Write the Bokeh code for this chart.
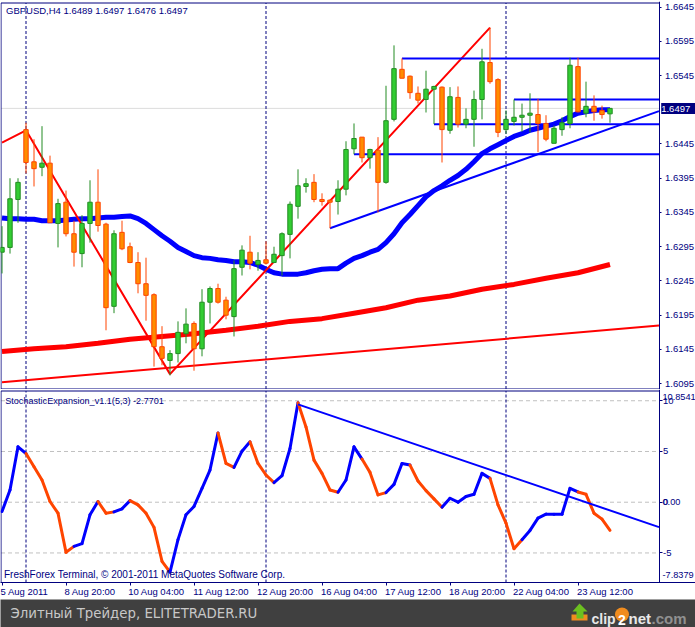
# GBPUSD H4 chart with stochastic sub window
import numpy as np
from bokeh.core.properties import value
from bokeh.embed import file_html
from bokeh.layouts import column, row
from bokeh.models import FixedTicker, Label, LinearAxis, Range1d
from bokeh.plotting import figure
from bokeh.resources import INLINE

opens = [1.6287, 1.6294, 1.6364, 1.6466, 1.6419, 1.6411, 1.6417, 1.6329, 1.6360, 1.6314,
         1.6285, 1.6329, 1.6360, 1.6328, 1.6208, 1.6316, 1.6295, 1.6272, 1.6241, 1.6225,
         1.6149, 1.6129, 1.6139, 1.6168, 1.6183, 1.6146, 1.6214, 1.6234, 1.6217, 1.6193,
         1.6265, 1.6287, 1.6269, 1.6276, 1.6272, 1.6282, 1.6313, 1.6354, 1.6383, 1.6389,
         1.6364, 1.6363, 1.6361, 1.6379, 1.6438, 1.6455, 1.6425, 1.6436, 1.6389, 1.6481,
         1.6554, 1.6544, 1.6519, 1.6510, 1.6525, 1.6528, 1.6465, 1.6513, 1.6474, 1.6481,
         1.6510, 1.6564, 1.6539, 1.6466, 1.6478, 1.6484, 1.6487, 1.6488, 1.6475, 1.6446,
         1.6466, 1.6475, 1.6558, 1.6490, 1.6500, 1.6494, 1.6489]
highs = [1.6325, 1.6395, 1.6395, 1.6476, 1.6452, 1.6471, 1.6428, 1.6365, 1.6377, 1.6333,
         1.6341, 1.6392, 1.6408, 1.6330, 1.6319, 1.6333, 1.6301, 1.6287, 1.6279, 1.6227,
         1.6179, 1.6144, 1.6186, 1.6205, 1.6186, 1.6233, 1.6237, 1.6241, 1.6222, 1.6275,
         1.6297, 1.6311, 1.6287, 1.6303, 1.6295, 1.6316, 1.6361, 1.6408, 1.6395, 1.6401,
         1.6373, 1.6364, 1.6392, 1.6449, 1.6475, 1.6455, 1.6438, 1.6455, 1.6530, 1.6589,
         1.6570, 1.6545, 1.6529, 1.6552, 1.6530, 1.6529, 1.6528, 1.6529, 1.6497, 1.6523,
         1.6584, 1.6615, 1.6541, 1.6494, 1.6510, 1.6504, 1.6519, 1.6511, 1.6487, 1.6472,
         1.6484, 1.6571, 1.6571, 1.6536, 1.6516, 1.6501, 1.6497]
lows = [1.6256, 1.6285, 1.6330, 1.6402, 1.6383, 1.6398, 1.6330, 1.6294, 1.6310, 1.6266,
        1.6265, 1.6301, 1.6317, 1.6173, 1.6198, 1.6290, 1.6271, 1.6227, 1.6187, 1.6120,
        1.6122, 1.6107, 1.6126, 1.6154, 1.6114, 1.6135, 1.6183, 1.6212, 1.6189, 1.6164,
        1.6253, 1.6262, 1.6260, 1.6269, 1.6271, 1.6253, 1.6278, 1.6336, 1.6374, 1.6360,
        1.6355, 1.6322, 1.6342, 1.6370, 1.6430, 1.6418, 1.6409, 1.6345, 1.6387, 1.6478,
        1.6541, 1.6511, 1.6504, 1.6491, 1.6474, 1.6418, 1.6460, 1.6469, 1.6468, 1.6441,
        1.6481, 1.6533, 1.6455, 1.6460, 1.6472, 1.6463, 1.6462, 1.6433, 1.6449, 1.6446,
        1.6457, 1.6468, 1.6491, 1.6484, 1.6479, 1.6482, 1.6476]
closes = [1.6294, 1.6365, 1.6389, 1.6418, 1.6409, 1.6417, 1.6330, 1.6358, 1.6314, 1.6287,
          1.6329, 1.6360, 1.6326, 1.6206, 1.6314, 1.6292, 1.6272, 1.6241, 1.6224, 1.6149,
          1.6132, 1.6139, 1.6170, 1.6182, 1.6146, 1.6214, 1.6234, 1.6214, 1.6195, 1.6263,
          1.6290, 1.6271, 1.6275, 1.6271, 1.6284, 1.6314, 1.6357, 1.6384, 1.6387, 1.6364,
          1.6361, 1.6360, 1.6379, 1.6437, 1.6453, 1.6425, 1.6437, 1.6389, 1.6479, 1.6555,
          1.6541, 1.6520, 1.6509, 1.6525, 1.6529, 1.6466, 1.6514, 1.6474, 1.6481, 1.6510,
          1.6565, 1.6536, 1.6462, 1.6481, 1.6484, 1.6487, 1.6490, 1.6475, 1.6452, 1.6468,
          1.6476, 1.6560, 1.6492, 1.6500, 1.6492, 1.6488, 1.6497]

# thick blue average, one value per bar
blue_ma = [1.6337, 1.6336, 1.6336, 1.6335, 1.6335, 1.6333, 1.6333, 1.6333, 1.6334, 1.6335,
           1.6336, 1.6336, 1.6337, 1.6338, 1.6338, 1.6339, 1.6340, 1.6336, 1.6329, 1.6320,
           1.6311, 1.6303, 1.6294, 1.6288, 1.6282, 1.6279, 1.6278, 1.6276, 1.6275, 1.6273,
           1.6273, 1.6272, 1.6268, 1.6262, 1.6257, 1.6255, 1.6255, 1.6255, 1.6257, 1.6260,
           1.6262, 1.6263, 1.6263, 1.6271, 1.6278, 1.6282, 1.6287, 1.6291, 1.6301, 1.6314,
           1.6330, 1.6342, 1.6355, 1.6368, 1.6377, 1.6384, 1.6392, 1.6399, 1.6408, 1.6419,
           1.6431, 1.6438, 1.6444, 1.6450, 1.6456, 1.6460, 1.6465, 1.6468, 1.6471, 1.6474,
           1.6479, 1.6485, 1.6490, 1.6492, 1.6494, 1.6495, 1.6495]
# thick red average, read every 4 bars
red_ma_x = [0, 4, 8, 12, 16, 20, 24, 28, 32, 36, 40, 44, 48, 52, 56, 60, 64, 68, 72, 76]
red_ma = [1.6142, 1.6146, 1.6149, 1.6154, 1.6160, 1.6164, 1.6168, 1.6173, 1.6179, 1.6186,
          1.6190, 1.6198, 1.6206, 1.6217, 1.6223, 1.6233, 1.6240, 1.6249, 1.6257, 1.6269]

zigzag_x = [0, 3, 21, 61]
zigzag_y = [1.6447, 1.6465, 1.6109, 1.6615]
red_trend_y = [1.6097, 1.6180]
blue_trend_x = 41
blue_trend_y = [1.6322, 1.6493]
level_start = [50, 64, 54, 44]
level_price = [1.6570, 1.6510, 1.6474, 1.6430]
last_price = 1.6497
period_sep = [3, 33, 63]

price_ticks = [1.6645, 1.6595, 1.6545, 1.6445, 1.6395, 1.6345, 1.6295, 1.6245, 1.6195, 1.6145, 1.6095]

stoch = [-0.92, 1.21, 5.46, 4.80, 3.50, 2.19, 0.07, -1.08, -4.93, -4.35,
         -4.08, -1.24, 0.07, -1.08, -0.95, -0.65, 0.16, -0.26, -1.08, -2.48,
         -5.82, -6.90, -3.69, -1.24, -0.42, 1.37, 3.17, 6.83, 3.82, 3.43,
         5.03, 5.95, 3.82, 2.68, 1.93, 2.61, 5.29, 9.80, 7.42, 4.15,
         2.84, 1.21, 0.98, 2.19, 5.46, 4.25, 2.94, 0.72, 0.95, 1.76,
         3.82, 3.66, 2.09, 1.14, 0.33, -0.49, 0.39, 0.00, 0.56, 0.78,
         2.84, 2.35, -0.26, -2.06, -4.58, -3.69, -2.78, -1.57, -1.18, -1.18,
         -1.18, 1.37, 1.01, 0.78, -1.08, -1.67, -2.7701]
# colour of the step from bar i to bar i+1: 1 blue, 0 orange
stoch_up = [1, 1, 1, 0, 0, 0, 0, 0, 0, 1, 1, 1, 0, 0, 1, 1, 0, 0, 0, 0,
            0, 1, 1, 1, 1, 1, 1, 0, 0, 1, 1, 0, 0, 0, 1, 1, 1, 0, 0, 0,
            0, 0, 1, 1, 1, 0, 0, 0, 1, 1, 1, 0, 0, 0, 0, 1, 1, 1, 1, 1,
            1, 0, 0, 0, 0, 1, 1, 1, 1, 1, 1, 1, 0, 0, 0, 0]
stoch_trend_x = 37
stoch_trend_y = [9.64, -2.45]
stoch_levels = [10, 5, 0, -5]

date_ticks = [0, 8, 16, 24, 32, 40, 48, 56, 64, 72]
date_labels = ["5 Aug 2011", "8 Aug 20:00", "10 Aug 04:00", "11 Aug 12:00", "12 Aug 20:00",
               "16 Aug 04:00", "17 Aug 12:00", "18 Aug 20:00", "22 Aug 04:00", "23 Aug 12:00"]
# labels start at their tick, the axis can only centre them
date_label_at = [2.8, 11.0, 19.3, 27.4, 35.4, 43.4, 51.4, 59.4, 67.4, 75.4]

NAVY = "#00007f"
FONT = "Liberation Sans"
FS = "9.5px"
W = 695
# frames run the full width, the price axis sits inside at AXIS_X so that the
# 1.6497 box and the overlapping scale labels are not clipped
AXIS_X = 82.125
LEFT_X = -0.125
xr = Range1d(-0.1875, 86.6875)


def style_axis(a, tick_out=3, standoff=3):
    a.axis_line_color = NAVY
    a.major_tick_line_color = NAVY
    a.minor_tick_line_color = None
    a.major_tick_in = 0
    a.major_tick_out = tick_out
    a.major_label_standoff = standoff
    a.major_label_text_color = NAVY
    a.major_label_text_font = FONT
    a.major_label_text_font_size = FS


x = np.arange(len(closes))
o, h, l, c = map(np.array, (opens, highs, lows, closes))
up = c >= o

main = figure(width=W, height=389, x_range=xr, y_range=Range1d(1.608656, 1.665304),
              output_backend="svg", toolbar_location=None, x_axis_location=None, y_axis_location="right",
              min_border_left=0, min_border_right=0, min_border_top=1, min_border_bottom=0)
main.grid.visible = False
main.outline_line_color = None
ax = main.yaxis[0]
style_axis(ax, 2, 4)
ax.fixed_location = AXIS_X
ax.ticker = FixedTicker(ticks=price_ticks)
ax.major_label_overrides = {t: "%.4f" % t for t in price_ticks}

main.line([LEFT_X, AXIS_X], [last_price, last_price], line_color="#dcdcdc", line_width=1)
for s in period_sep:
    main.line([s, s], [1.608729, 1.665085], line_color=NAVY, line_width=1, line_dash="3 2")
# panel border
main.line([AXIS_X, LEFT_X, LEFT_X, AXIS_X], [1.665085, 1.665085, 1.608729, 1.608729], line_color=NAVY, line_width=1)

main.line([0, AXIS_X], red_trend_y, line_color="#ff0000", line_width=2)
main.line(red_ma_x, red_ma, line_color="#ff0000", line_width=5)
main.line(x, blue_ma, line_color="#0000ff", line_width=5)
main.line(zigzag_x, zigzag_y, line_color="#ff0000", line_width=2)
main.line([blue_trend_x, AXIS_X], blue_trend_y, line_color="#0000ff", line_width=2)
for s, lv in zip(level_start, level_price):
    main.line([s, AXIS_X], [lv, lv], line_color="#0000ff", line_width=2)

wick = ["#228b22" if u else "#ff4500" for u in up]
fill = ["#32cd32" if u else "#ff8c00" for u in up]
main.segment(x, h, x, l, line_color=wick, line_width=1)
main.vbar(x, width=0.55, top=np.maximum(o, c), bottom=np.minimum(o, c), fill_color=fill, line_color=wick, line_width=1)

main.add_layout(Label(x=0.5, y=1.6640, text="GBPUSD,H4  1.6489 1.6497 1.6476 1.6497", text_color=NAVY,
                      text_font=FONT, text_font_size=FS, text_baseline="middle"))
main.add_layout(Label(x=82.4, y=last_price, text=" %.4f  " % last_price, text_color="white", text_font=FONT,
                      text_font_size=FS, text_baseline="middle", background_fill_color=NAVY, level="overlay"))

sub = figure(width=W, height=210, x_range=xr, y_range=Range1d(-7.912, 11.108),
             output_backend="svg", toolbar_location=None, y_axis_location="right",
             min_border_left=0, min_border_right=0, min_border_top=0, min_border_bottom=16)
sub.grid.visible = False
sub.outline_line_color = None
style_axis(sub.yaxis[0], 3, 1)
sub.yaxis[0].fixed_location = AXIS_X
sub.yaxis[0].ticker = FixedTicker(ticks=stoch_levels)
sub.yaxis[0].major_label_overrides = {10: "10", 5: "5", 0: "0", -5: "-5"}

# tick marks on one axis, the shifted date labels on a second one under it
tick_axis = sub.xaxis[0]
style_axis(tick_axis)
tick_axis.ticker = FixedTicker(ticks=date_ticks)
tick_axis.major_label_overrides = {t: "" for t in date_ticks}
tick_axis.major_label_text_font_size = "1px"
tick_axis.major_label_standoff = 0
date_axis = LinearAxis(ticker=FixedTicker(ticks=date_label_at),
                       major_label_overrides=dict(zip(date_label_at, date_labels)))
style_axis(date_axis, 0, 0)
date_axis.axis_line_color = None
date_axis.major_tick_line_color = None
sub.add_layout(date_axis, "below")

for lv in stoch_levels:
    sub.line([LEFT_X, AXIS_X], [lv, lv], line_color="#c0c0c0", line_width=1, line_dash="4 3")
for s in period_sep:
    sub.line([s, s], [-7.912, 10.96], line_color=NAVY, line_width=1, line_dash="3 2")
sub.line([AXIS_X, LEFT_X, LEFT_X], [10.96, 10.96, -7.912], line_color=NAVY, line_width=1)

s_col = ["#0000ff" if u else "#ff4500" for u in stoch_up]
sub.segment(x[:-1], stoch[:-1], x[1:], stoch[1:], line_color=s_col, line_width=3, line_cap="round")
sub.line([stoch_trend_x, AXIS_X], stoch_trend_y, line_color="#0000ff", line_width=2)

sub.add_layout(Label(x=0.4, y=9.93, text="StochasticExpansion_v1.1(5,3) -2.7701", text_color=NAVY,
                     text_font=FONT, text_font_size="9.1px", text_baseline="middle"))
sub.add_layout(Label(x=0.25, y=-7.13, text="FreshForex Terminal, © 2001-2011 MetaQuotes Software Corp.", text_color=NAVY,
                     text_font=FONT, text_font_size="10px", text_baseline="middle"))
for yy, txt in [(10.4, "10.8541"), (0, "0.00"), (-7.13, "-7.8379")]:
    sub.add_layout(Label(x=82.56, y=yy, text=txt, text_color=NAVY, text_font=FONT,
                         text_font_size="9.2px", text_baseline="middle", level="overlay"))

# dark strip under the chart, x and y in picture pixels
foot = figure(width=W, height=28, x_range=Range1d(0, 695), y_range=Range1d(627, 599), output_backend="svg",
              toolbar_location=None, x_axis_location=None, y_axis_location=None,
              min_border=0, background_fill_color="#404040")
foot.grid.visible = False
foot.outline_line_color = None
foot.text([10], [613], text=["Элитный Трейдер, ELITETRADER.RU"], text_color="#c8c8c8", text_font=value("DejaVu Sans"),
          text_font_size="13.3px", text_baseline="middle")
foot.patch([571, 587, 587, 571], [620, 620, 614, 614], fill_color="#f08c1e", line_color=None)
foot.patch([572, 579, 587, 583, 583, 576, 576], [611, 603, 611, 611, 618, 618, 611], fill_color="#6cc020", line_color=None)
foot.text([591], [618], text=["clip"], text_color="#e8e8e8", text_font=value(FONT), text_font_style="bold",
          text_font_size="14px", text_baseline="alphabetic")
foot.circle([621.5], [614], radius=7, fill_color="#f08c1e", line_color=None)
foot.text([621.5], [619], text=["2"], text_color="white", text_font=value(FONT), text_font_style="bold",
          text_font_size="14px", text_baseline="alphabetic", text_align="center")
foot.text([628], [618], text=["net"], text_color="#e8e8e8", text_font=value(FONT), text_font_style="bold",
          text_font_size="15px", text_baseline="alphabetic")
foot.text([651], [618], text=[".com"], text_color="#909090", text_font=value(FONT), text_font_style="bold",
          text_font_size="15px", text_baseline="alphabetic")

p = column(main, sub, row(foot), spacing=0)
open("out.html", "w").write(file_html(p, INLINE))
